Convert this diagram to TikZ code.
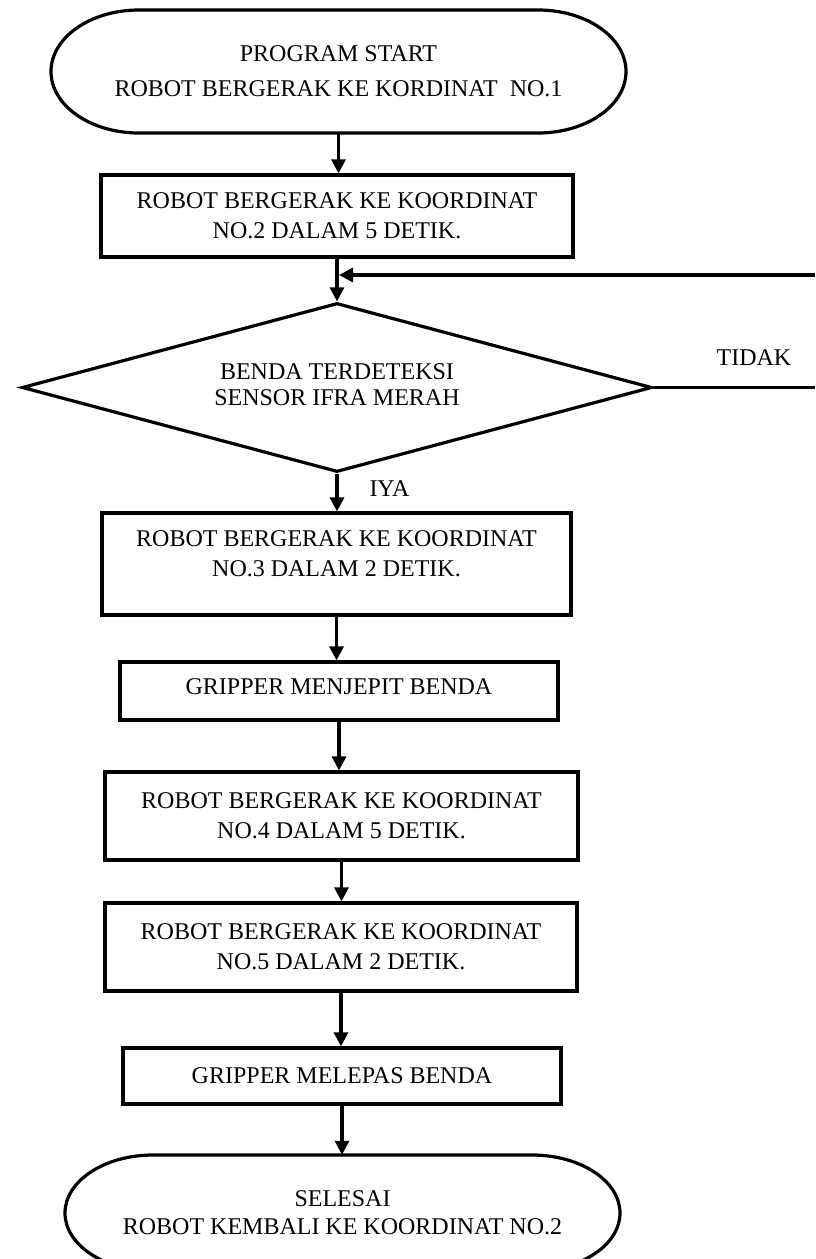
\documentclass[tikz,border=0pt]{standalone}
\usepackage{fontspec}
\setmainfont{Liberation Serif}
\usetikzlibrary{arrows.meta,shapes.geometric,calc}
\begin{document}
\begin{tikzpicture}[x=1pt,y=1pt,
  every node/.style={font=\fontsize{24}{30}\selectfont, inner sep=0pt, align=center},
  ln/.style={line width=3.2pt},
  box/.style={draw, rectangle, line width=3.2pt},
  term/.style={draw=none, rectangle},
  arr/.style={line width=3.2pt, -{Triangle[length=14pt,width=14pt]}},
]
\path[use as bounding box, fill=white] (0,0) rectangle (815,-1259);

% start terminator
\node[term, minimum width=575, minimum height=123, font=\fontsize{24}{35}\selectfont] (start) at (338.5,-71.5)
  {PROGRAM START\\ROBOT BERGERAK KE KORDINAT\ \ NO.1};
\draw[ln] (139,-10) -- (538,-10) arc[start angle=90,end angle=-90,x radius=88,y radius=61.5]
  -- (139,-133) arc[start angle=270,end angle=90,x radius=88,y radius=61.5] -- cycle;

\node[box, minimum width=472, minimum height=82] (b1) at (337,-216)
  {ROBOT BERGERAK KE KOORDINAT\\NO.2 DALAM 5 DETIK.};

\node[draw, diamond, line width=3.2pt, aspect=3.7, minimum width=630, minimum height=169,
  font=\fontsize{24}{26}\selectfont, text depth=6pt] (dec) at (337,-387.5)
  {BENDA TERDETEKSI\\SENSOR IFRA MERAH};

\node[anchor=base] (tidak) at (754,-365) {TIDAK};
\node[anchor=base] (iya) at (389.5,-496) {IYA};

\node[box, minimum width=469, minimum height=102, text depth=20pt] (b2) at (336.5,-564)
  {ROBOT BERGERAK KE KOORDINAT\\NO.3 DALAM 2 DETIK.};
\node[box, minimum width=438, minimum height=58, text depth=8pt] (b3) at (339,-691)
  {GRIPPER MENJEPIT BENDA};
\node[box, minimum width=473, minimum height=88] (b4) at (341.5,-816)
  {ROBOT BERGERAK KE KOORDINAT\\NO.4 DALAM 5 DETIK.};
\node[box, minimum width=472, minimum height=88] (b5) at (341,-947)
  {ROBOT BERGERAK KE KOORDINAT\\NO.5 DALAM 2 DETIK.};
\node[box, minimum width=438, minimum height=56] (b6) at (342,-1076)
  {GRIPPER MELEPAS BENDA};

% end terminator
\node[term, minimum width=555, minimum height=116, font=\fontsize{24}{28}\selectfont] (stop) at (342.5,-1213)
  {SELESAI\\ROBOT KEMBALI KE KOORDINAT NO.2};
\draw[ln] (153,-1155) -- (532,-1155) arc[start angle=90,end angle=-90,x radius=88,y radius=58]
  -- (153,-1271) arc[start angle=270,end angle=90,x radius=88,y radius=58] -- cycle;

% connectors
\draw[arr] (start.south) -- (start.south |- b1.north);
\draw[arr] (b1.south) -- (b1.south |- dec.north);
\coordinate (fbR) at (815,-275);
\coordinate (fbL) at (339,-275);
\draw[arr] (fbR) -- (fbL);
\coordinate (noR) at (815,-387.5);
\draw[ln] (dec.east) -- (noR);
\draw[arr] (dec.south) -- (dec.south |- b2.north);
\draw[arr] (b2.south) -- (b2.south |- b3.north);
\draw[arr] (b3.south) -- (b3.south |- b4.north);
\draw[arr] (b4.south) -- (b4.south |- b5.north);
\draw[arr] (b5.south) -- (b5.south |- b6.north);
\draw[arr] (b6.south) -- (b6.south |- stop.north);
\end{tikzpicture}
\end{document}
